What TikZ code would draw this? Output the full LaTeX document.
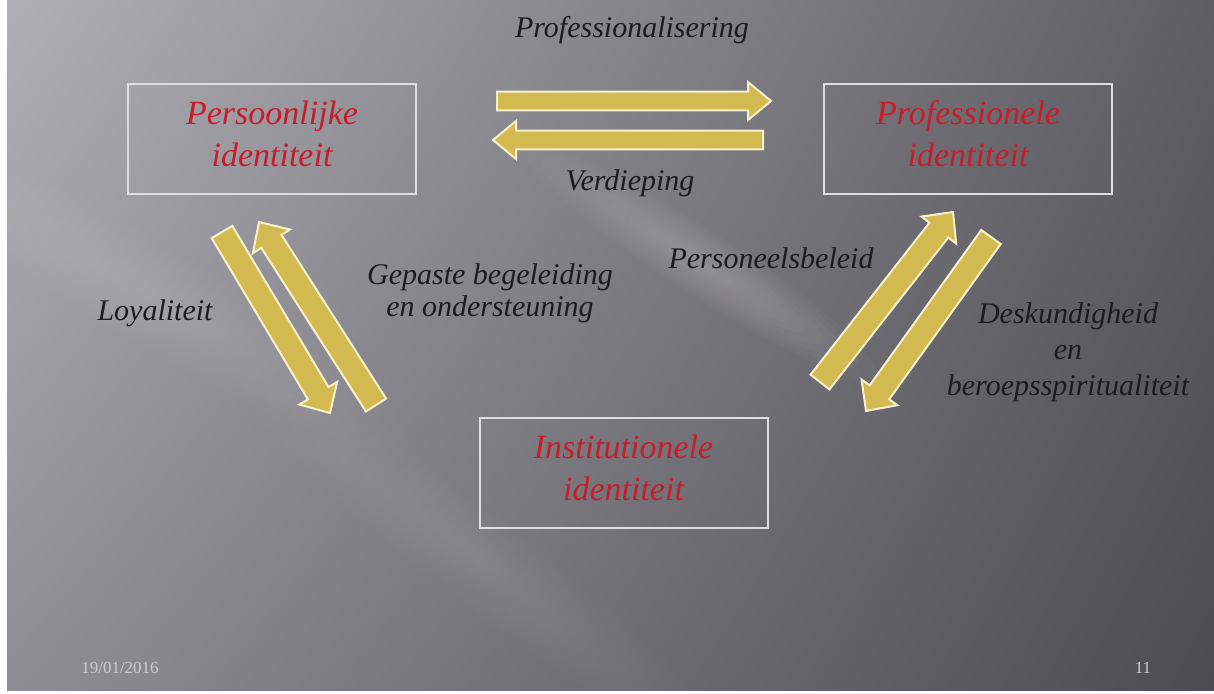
\documentclass[tikz,border=0pt]{standalone}
\usepackage{fontspec}
\setmainfont{Liberation Serif}
\usetikzlibrary{calc,shadings}
\definecolor{bgTL}{RGB}{176,175,182}
\definecolor{bgTR}{RGB}{96,94,101}
\definecolor{bgBL}{RGB}{142,141,147}
\definecolor{bgBR}{RGB}{78,76,83}
\definecolor{idred}{RGB}{200,28,40}
\definecolor{lbltext}{RGB}{28,28,32}
\definecolor{boxline}{RGB}{222,222,226}
\definecolor{goldfill}{RGB}{211,186,80}
\definecolor{goldedge}{RGB}{246,240,205}
\definecolor{footgrey}{RGB}{205,205,208}
\newcommand\arrowhl{11.5pt}
\newcommand\blockarrow[4]{%
  \coordinate (ba-c) at ($(#2)!\arrowhl!(#1)$);
  \filldraw[goldarrow]
    ($(#1)!#3!90:(#2)$) -- ($(ba-c)!#3!90:(#2)$) -- ($(ba-c)!#4!90:(#2)$) --
    (#2) -- ($(ba-c)!#4!-90:(#2)$) -- ($(ba-c)!#3!-90:(#2)$) --
    ($(#1)!#3!-90:(#2)$) -- cycle;
}
% soft streak: centre, half length, half width, angle, opacity per layer
\newcommand\sheenstreak[5]{%
  \foreach \k in {1,...,10}{%
    \fill[white, opacity=#5] #1 ellipse [x radius={#2*\k/10}, y radius={#3*\k/10}, rotate=#4];
  }%
}
\begin{document}
\begin{tikzpicture}[x=0.5pt,y=-0.5pt,
  idbox/.style={draw=boxline, line width=1pt, minimum width=144pt, minimum height=55pt,
    inner sep=0pt, text depth=5pt, align=center, text=idred, font=\itshape\fontsize{17}{21}\selectfont},
  lbl/.style={text=lbltext, align=center, inner sep=0pt, font=\itshape\fontsize{15}{16}\selectfont},
  foot/.style={text=footgrey, inner sep=0pt, font=\fontsize{8.5}{9}\selectfont},
  goldarrow/.style={fill=goldfill, draw=goldedge, line width=1pt, line join=miter}]
\useasboundingbox (0,0) rectangle (1214,693);
\fill[white] (0,0) rectangle (1214,693);
\begin{scope}
\clip (7,0) rectangle (1214,690);
\shade[upper left=bgTL, upper right=bgTR, lower left=bgBL, lower right=bgBR]
  (7,0) rectangle (1214,690);
% soft diagonal sheen streaks
\sheenstreak{(700,262)}{210}{32}{-33}{0.022}
\sheenstreak{(160,300)}{280}{50}{-30}{0.012}
\sheenstreak{(480,560)}{300}{45}{-38}{0.010}
\sheenstreak{(120,480)}{240}{40}{-30}{0.009}
\end{scope}
% boxes
\node[idbox] (pers) at (272,138.5) {Persoonlijke\\identiteit};
\node[idbox] (prof) at (968,139) {Professionele\\identiteit};
\node[idbox] (inst) at (623.5,472.5) {Institutionele\\identiteit};
% arrow end points
\coordinate (a1s) at (497,101);
\coordinate (a1e) at (771,101);
\coordinate (a2s) at (763,140);
\coordinate (a2e) at (493,140);
\coordinate (a3s) at (222,232);
\coordinate (a3e) at (330,413);
\coordinate (a4s) at (376,405);
\coordinate (a4e) at (259,222);
\coordinate (a5s) at (820,382);
\coordinate (a5e) at (953,212);
\coordinate (a6s) at (991,237);
\coordinate (a6e) at (866,411);
\blockarrow{a1s}{a1e}{4.7pt}{9.5pt}
\blockarrow{a2s}{a2e}{4.7pt}{9.5pt}
\blockarrow{a3s}{a3e}{6pt}{11pt}
\blockarrow{a4s}{a4e}{6pt}{11pt}
\blockarrow{a5s}{a5e}{6pt}{11pt}
\blockarrow{a6s}{a6e}{6pt}{11pt}
% labels
\node[lbl] (lprof) at (632,30) {Professionalisering};
\node[lbl] (lverd) at (630,183) {Verdieping};
\node[lbl] (lloy) at (155,313) {Loyaliteit};
\node[lbl] (lgep) at (490,293) {Gepaste begeleiding\\en ondersteuning};
\node[lbl] (lpers) at (771,258) {Personeelsbeleid};
\node[lbl, font=\itshape\fontsize{15}{18}\selectfont] (ldesk) at (1068,352) {Deskundigheid\\en\\beroepsspiritualiteit};
% footer
\node[foot] (date) at (120,668) {19/01/2016};
\node[foot] (page) at (1143,668) {11};
\end{tikzpicture}
\end{document}
